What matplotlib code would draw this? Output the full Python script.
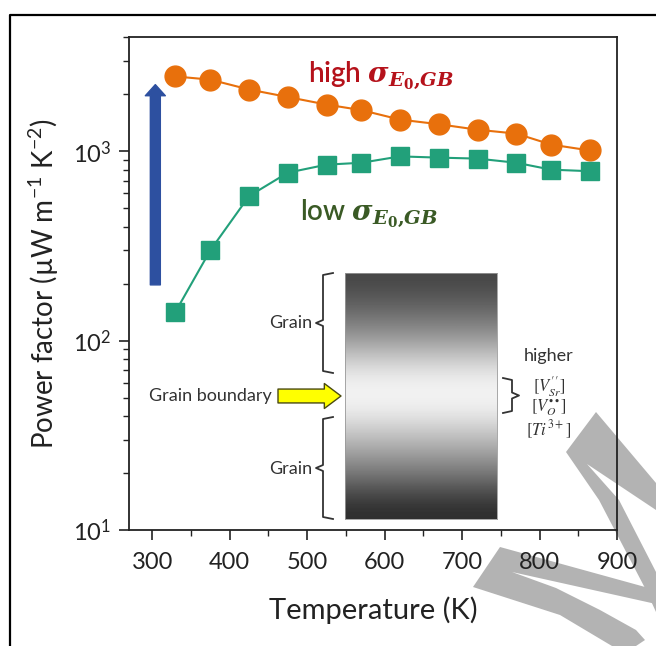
import numpy as np
import matplotlib.pyplot as plt
from matplotlib.patches import Polygon
from matplotlib.lines import Line2D

plt.rcParams['font.family'] = ['Lato', 'DejaVu Sans']
plt.rcParams['mathtext.fontset'] = 'custom'
plt.rcParams['mathtext.rm'] = 'Lato'
plt.rcParams['mathtext.it'] = 'Lato:italic'
plt.rcParams['mathtext.bf'] = 'Lato:bold'

# data
temp = [330, 375, 425, 475, 525, 570, 620, 670, 720, 770, 815, 865]
pf_high = [2485, 2390, 2120, 1935, 1765, 1650, 1470, 1390, 1300, 1240, 1085, 1010]
pf_low = [142, 300, 580, 771, 850, 870, 940, 926, 915, 870, 800, 785]

# blue arrow (low -> high)
arrow_T = 304
arrow_from = 197
arrow_to = 2250

# grey levels of the grain / grain boundary sketch, top to bottom
gray_levels = [0.28, 0.36, 0.47, 0.61, 0.78, 0.92, 0.96, 0.90, 0.77, 0.63, 0.48, 0.32, 0.18]

xticks = [300, 400, 500, 600, 700, 800, 900]

W, H = 656, 646


def fxy(x, y):
    # pixel position (from top-left of the reference) -> figure fraction
    return x / W, 1 - y / H


fig = plt.figure(figsize=(W / 100, H / 100), dpi=100)

# watermark shapes behind everything
wm_color = "#b3b3b3"
wm_v = [(566, 452), (596, 412), (656, 483), (656, 510), (587, 464), (619, 500),
        (656, 572), (656, 612), (646, 590), (599, 500)]
wm_low = [(500, 547), (656, 590), (656, 604), (512, 572), (556, 588), (600, 610),
          (636, 630), (645, 640), (636, 646), (612, 646), (560, 615), (473, 587)]
for shape in [wm_v, wm_low]:
    fig.add_artist(Polygon([fxy(x, y) for x, y in shape], closed=True,
                           transform=fig.transFigure, facecolor=wm_color,
                           edgecolor="none", zorder=0))

# outer frame of the panel
fx0, fy0 = fxy(10, 15)
fig.add_artist(Line2D([fx0, fx0, 1], [0, fy0, fy0], transform=fig.transFigure,
                      color="black", lw=1.6, zorder=1))

ax = fig.add_axes([129 / W, 1 - 530 / H, 488 / W, 492.7 / H])
ax.patch.set_alpha(0)

ax.plot(temp, pf_high, "-o", color="#E8700C", mfc="#E8700C", mec="#E8700C",
        ms=15, lw=1.5, zorder=4)
ax.plot(temp, pf_low, "-s", color="#22A07A", mfc="#22A07A", mec="#22A07A",
        ms=13.5, lw=1.5, zorder=4)

ax.annotate("", xy=(arrow_T, arrow_to), xytext=(arrow_T, arrow_from),
            arrowprops=dict(arrowstyle="simple,head_width=0.72,head_length=0.4,tail_width=0.36",
                            mutation_scale=20, facecolor="#2D50A0", edgecolor="#2D50A0",
                            shrinkA=0, shrinkB=0), zorder=3)

ax.set_yscale("log")
ax.set_xlim(270, 900)
ax.set_ylim(10, 4000)
ax.set_xticks(xticks)
ax.set_xticks(np.arange(350, 900, 100), minor=True)

ax.set_xlabel("Temperature (K)", fontsize=21, labelpad=17, color="#222222")
ax.set_ylabel("Power factor (µW m$^{-1}$ K$^{-2}$)", fontsize=20, labelpad=8,
              color="#222222")

for s in ["left", "right", "top", "bottom"]:
    ax.spines[s].set_linewidth(1.3)
    ax.spines[s].set_color("#222222")
ax.tick_params(axis="both", which="major", labelsize=17, length=7, width=1.2,
               direction="out", colors="#222222")
ax.tick_params(axis="x", which="major", pad=9)
ax.tick_params(axis="y", which="major", pad=6)
ax.tick_params(axis="both", which="minor", length=4, width=1.0, direction="out",
               colors="#222222")

sigma = r"$\mathbfit{\sigma}_{\mathbfit{E}_{\mathbf{0}}\mathbf{,}\mathbfit{GB}}$"
ax.text(0.367, 0.923, "high " + sigma, transform=ax.transAxes, fontsize=20,
        color="#B5121B", va="center", ha="left", fontweight="semibold",
        math_fontfamily="dejavuserif")
ax.text(0.350, 0.643, "low " + sigma, transform=ax.transAxes, fontsize=20,
        color="#3A5A25", va="center", ha="left", fontweight="semibold",
        math_fontfamily="dejavuserif")

# inset sketch of grains and grain boundary
ins = fig.add_axes([345 / W, 1 - 519 / H, 152 / W, 246.3 / H])
ins.imshow(np.array(gray_levels)[:, None], cmap="gray", vmin=0, vmax=1,
           aspect="auto", interpolation="bicubic")
ins.set_xticks([])
ins.set_yticks([])
for s in ins.spines.values():
    s.set_color("#999999")
    s.set_linewidth(0.6)


def brace(top, bottom, x_in, x_out, tip):
    mid = (top + bottom) / 2
    pts = [(x_in, top), (x_out, top + 2), (x_out, mid - 3), (tip, mid),
           (x_out, mid + 3), (x_out, bottom - 2), (x_in, bottom)]
    xs, ys = zip(*[fxy(x, y) for x, y in pts])
    fig.add_artist(Line2D(xs, ys, transform=fig.transFigure, color="#333333",
                          lw=1.3, zorder=5))


brace(273, 373, 333, 323, 316)
brace(417, 519, 333, 323, 316)
brace(378, 413, 503, 512, 519)

tkw = dict(transform=fig.transFigure, fontsize=13, color="#333333", va="center")
fig.text(*fxy(312, 323), "Grain", ha="right", **tkw)
fig.text(*fxy(312, 469), "Grain", ha="right", **tkw)
fig.text(*fxy(272, 396), "Grain boundary", ha="right", **tkw)
fig.text(*fxy(549, 356), "higher", ha="center", **tkw)

skw = dict(transform=fig.transFigure, fontsize=12, color="#333333", va="center",
           ha="center", math_fontfamily="stix")
fig.text(*fxy(549, 387), r"$[V_{Sr}^{\prime\prime}]$", **skw)
fig.text(*fxy(549, 408), r"$[V_{O}^{\bullet\bullet}]$", **skw)
fig.text(*fxy(549, 430), r"$[Ti^{3+}]$", **skw)

# yellow arrow pointing at the grain boundary
ax.annotate("", xy=fxy(341, 396), xytext=fxy(278, 396), xycoords="figure fraction",
            textcoords="figure fraction",
            arrowprops=dict(arrowstyle="simple,head_width=0.9,head_length=0.6,tail_width=0.5",
                            mutation_scale=20, facecolor="#FFFF00", edgecolor="#4a4a10",
                            lw=1.0, shrinkA=0, shrinkB=0))

fig.savefig("out.png", dpi=100)
